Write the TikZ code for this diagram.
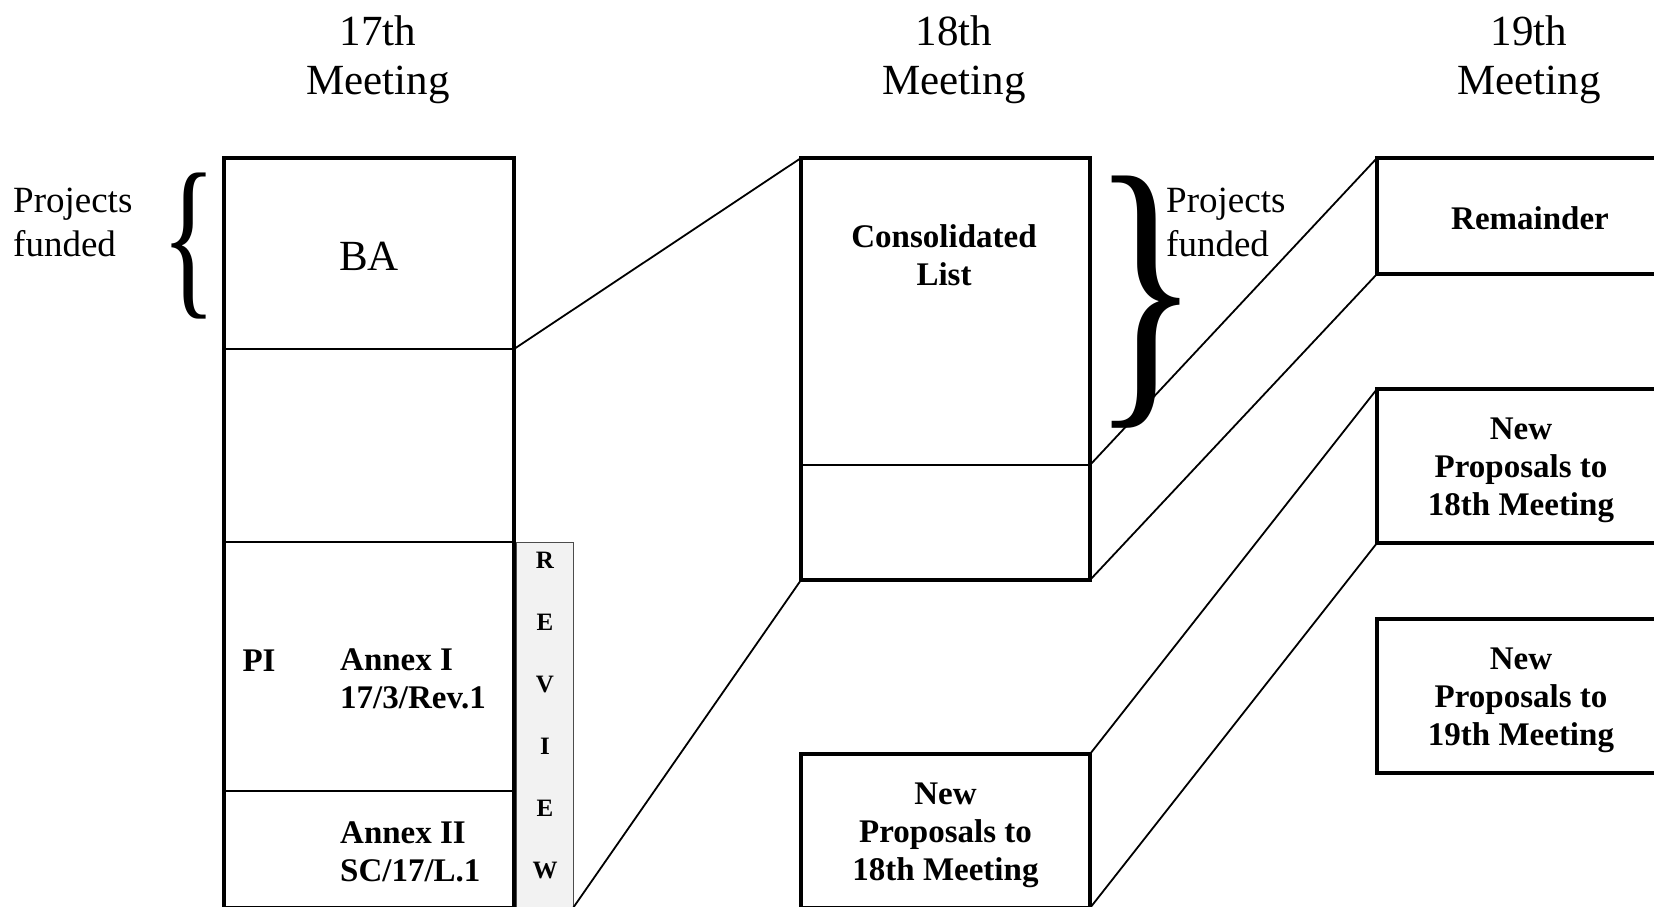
\documentclass[tikz,border=0pt]{standalone}
\usepackage{fontspec}
\setmainfont{Liberation Serif}
\usepackage{graphicx}
\usetikzlibrary{positioning}

\newcommand{\topstrut}[1]{\rule{0pt}{#1}}

\begin{document}
\begin{tikzpicture}[x=1pt,y=-1pt,
    cell/.style={draw,line width=2pt,anchor=north west,outer sep=0pt,inner sep=0pt},
    slab/.style={draw,line width=4.5pt,anchor=north west,outer sep=0pt,inner sep=0pt,
        align=center,font=\bfseries\fontsize{33}{38}\selectfont},
    heading/.style={align=center,font=\fontsize{43}{49}\selectfont},
    note/.style={align=left,anchor=west,inner sep=0pt,font=\fontsize{37}{44}\selectfont},
    tag/.style={align=left,inner sep=0pt,font=\bfseries\fontsize{33}{38}\selectfont},
    link/.style={line width=1.8pt}]
	\useasboundingbox (0,0) rectangle (1654,906);
	\clip (0,0) rectangle (1654,906);

	% meetings
	\node[heading] (m17) at (378,60)  {17th\\Meeting};
	\node[heading] (m18) at (954,60)  {18th\\Meeting};
	\node[heading] (m19) at (1529,60) {19th\\Meeting};

	% 17th meeting column
	\node[cell,minimum width=290pt,minimum height=191pt,font=\fontsize{43}{49}\selectfont] (ba) at (224,158) {\topstrut{35pt}BA};
	\node[cell,minimum width=290pt,minimum height=193pt,below=0pt of ba] (gap) {};
	\node[cell,minimum width=290pt,minimum height=249pt,below=0pt of gap] (annex1) {};
	\node[cell,minimum width=290pt,minimum height=117pt,below=0pt of annex1] (annex2) {};
	\draw[line width=4.5pt] (ba.north west) rectangle (annex2.south east);
	\node[tag] (pi) at (259,661) {PI};
	\node[tag,anchor=west] (annex1txt) at (340,679) {Annex I\\17/3/Rev.1};
	\node[tag,anchor=west] (annex2txt) at (340,852) {Annex II\\SC/17/L.1};
	\node[draw=gray!60!black,fill=gray!10,line width=1pt,anchor=north west,outer sep=0pt,
	      minimum width=57pt,minimum height=366pt] (review) at (516,542) {};
	\node[align=center,inner sep=0pt,font=\bfseries\fontsize{25}{62}\selectfont] (reviewtxt) at (545,715) {R\\E\\V\\I\\E\\W};
	\node[inner sep=0pt] (lbrace) at (189,246) {\resizebox*{55pt}{146pt}{\{}};
	\node[note] (fund17) at (13,222) {Projects\\funded};

	% 18th meeting column
	\node[cell,minimum width=289pt,minimum height=307pt] (cons) at (801,158) {};
	\node[tag,align=center] (constxt) at (944,255) {Consolidated\\List};
	\node[cell,minimum width=289pt,minimum height=115pt,below=0pt of cons] (rest) {};
	\draw[line width=4.5pt] (cons.north west) rectangle (rest.south east);
	\node[slab,minimum width=289pt,minimum height=154pt] (np18a) at (801,754) {\topstrut{30pt}New\\Proposals to\\18th Meeting};
	\node[inner sep=0pt] (rbrace) at (1146,302) {\resizebox*{109pt}{252pt}{\}}};
	\node[note] (fund18) at (1166,222) {Projects\\funded};

	% 19th meeting column
	\node[slab,minimum width=306pt,minimum height=116pt] (remainder) at (1377,158) {\topstrut{27pt}Remainder};
	\node[slab,minimum width=288pt,minimum height=154pt] (np18b) at (1377,389) {\topstrut{30pt}New\\Proposals to\\18th Meeting};
	\node[slab,minimum width=288pt,minimum height=154pt] (np19) at (1377,619) {\topstrut{30pt}New\\Proposals to\\19th Meeting};

	% links
	\draw[link] (ba.south east) -- (cons.north west);
	\draw[link] (review.south east) -- (rest.south west);
	\draw[link] (cons.south east) -- (remainder.north west);
	\draw[link] (rest.south east) -- (remainder.south west);
	\draw[link] (np18a.north east) -- (np18b.north west);
	\draw[link] (np18a.south east) -- (np18b.south west);
\end{tikzpicture}
\end{document}
